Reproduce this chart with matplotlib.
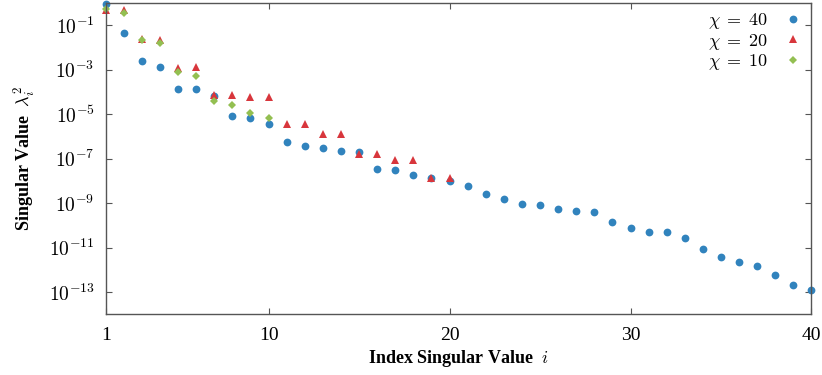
import numpy as np
import matplotlib
matplotlib.use("Agg")
import matplotlib.pyplot as plt

plt.rcParams['font.family'] = ['Liberation Serif', 'DejaVu Serif']
plt.rcParams['mathtext.fontset'] = 'cm'

# squared singular values for three bond dimensions
sv_chi40 = [8.7e-1, 4.6e-2, 2.5e-3, 1.3e-3, 1.4e-4, 1.3e-4, 6.9e-5, 8.7e-6, 6.9e-6, 3.6e-6,
            5.4e-7, 3.9e-7, 3.0e-7, 2.1e-7, 2.0e-7, 3.6e-8, 3.2e-8, 1.8e-8, 1.3e-8, 1.0e-8,
            6.0e-9, 2.6e-9, 1.5e-9, 9.5e-10, 8.3e-10, 5.6e-10, 4.5e-10, 4.2e-10, 1.35e-10, 7.9e-11,
            5.2e-11, 4.8e-11, 2.75e-11, 9.1e-12, 3.9e-12, 2.2e-12, 1.5e-12, 6.0e-13, 2.0e-13, 1.2e-13]
sv_chi20 = [5.0e-1, 4.7e-1, 2.3e-2, 2.2e-2, 1.2e-3, 1.3e-3, 7.4e-5, 7.1e-5, 5.8e-5, 5.7e-5,
            3.7e-6, 3.7e-6, 1.3e-6, 1.3e-6, 1.7e-7, 1.7e-7, 8.5e-8, 8.5e-8, 1.4e-8, 1.4e-8]
sv_chi10 = [5.5e-1, 3.7e-1, 2.1e-2, 1.6e-2, 7.9e-4, 5.2e-4, 3.8e-5, 2.7e-5, 1.1e-5, 6.8e-6]

labels = [r"$\chi\;=\;40$", r"$\chi\;=\;20$", r"$\chi\;=\;10$"]
xticks = [1, 10, 20, 30, 40]
yticks = [1e-1, 1e-3, 1e-5, 1e-7, 1e-9, 1e-11, 1e-13]

fig = plt.figure(figsize=(8.22, 3.75), dpi=100)
ax = fig.add_axes([0.1286, 0.1619, 0.8586, 0.830])

series = [(sv_chi40, 'o', '#3183bd', 5.6),
          (sv_chi20, '^', '#d8363c', 5.6),
          (sv_chi10, 'D', '#93bf51', 4.2)]
for (vals, mk, col, ms), lab in zip(series, labels):
    idx = np.arange(1, len(vals) + 1)
    ax.plot(idx, vals, linestyle='none', marker=mk, color=col, markersize=ms,
            markeredgewidth=0, label=lab, clip_on=False)

ax.set_yscale('log')
ax.set_xlim(1, 40)
ax.set_ylim(1e-14, 1)
ax.set_xticks(xticks)
ax.set_xticklabels([str(t) for t in xticks])
ax.set_yticks(yticks)
ax.set_yticklabels([r"$10^{%d}$" % int(np.log10(t)) for t in yticks])
ax.minorticks_off()
ax.tick_params(direction='in', length=4.3, width=0.8, color='#555555',
               top=True, right=True, labelsize=14)
ax.tick_params(axis='x', pad=9)
ax.tick_params(axis='y', pad=8)
for sp in ax.spines.values():
    sp.set_color('#555555')
    sp.set_linewidth(1.0)

ax.set_xlabel(r"Index Singular Value  $i$", fontsize=13, fontweight='bold', labelpad=3)
ax.set_ylabel(r"Singular Value  $\lambda_i^2$", fontsize=13, fontweight='bold', labelpad=8)

ax.legend(loc='upper right', frameon=False, markerfirst=False, fontsize=13,
          handlelength=1.0, handletextpad=0.9, labelspacing=0.02,
          borderaxespad=0.0, bbox_to_anchor=(0.997, 0.997))

fig.savefig("out.png", dpi=100)
